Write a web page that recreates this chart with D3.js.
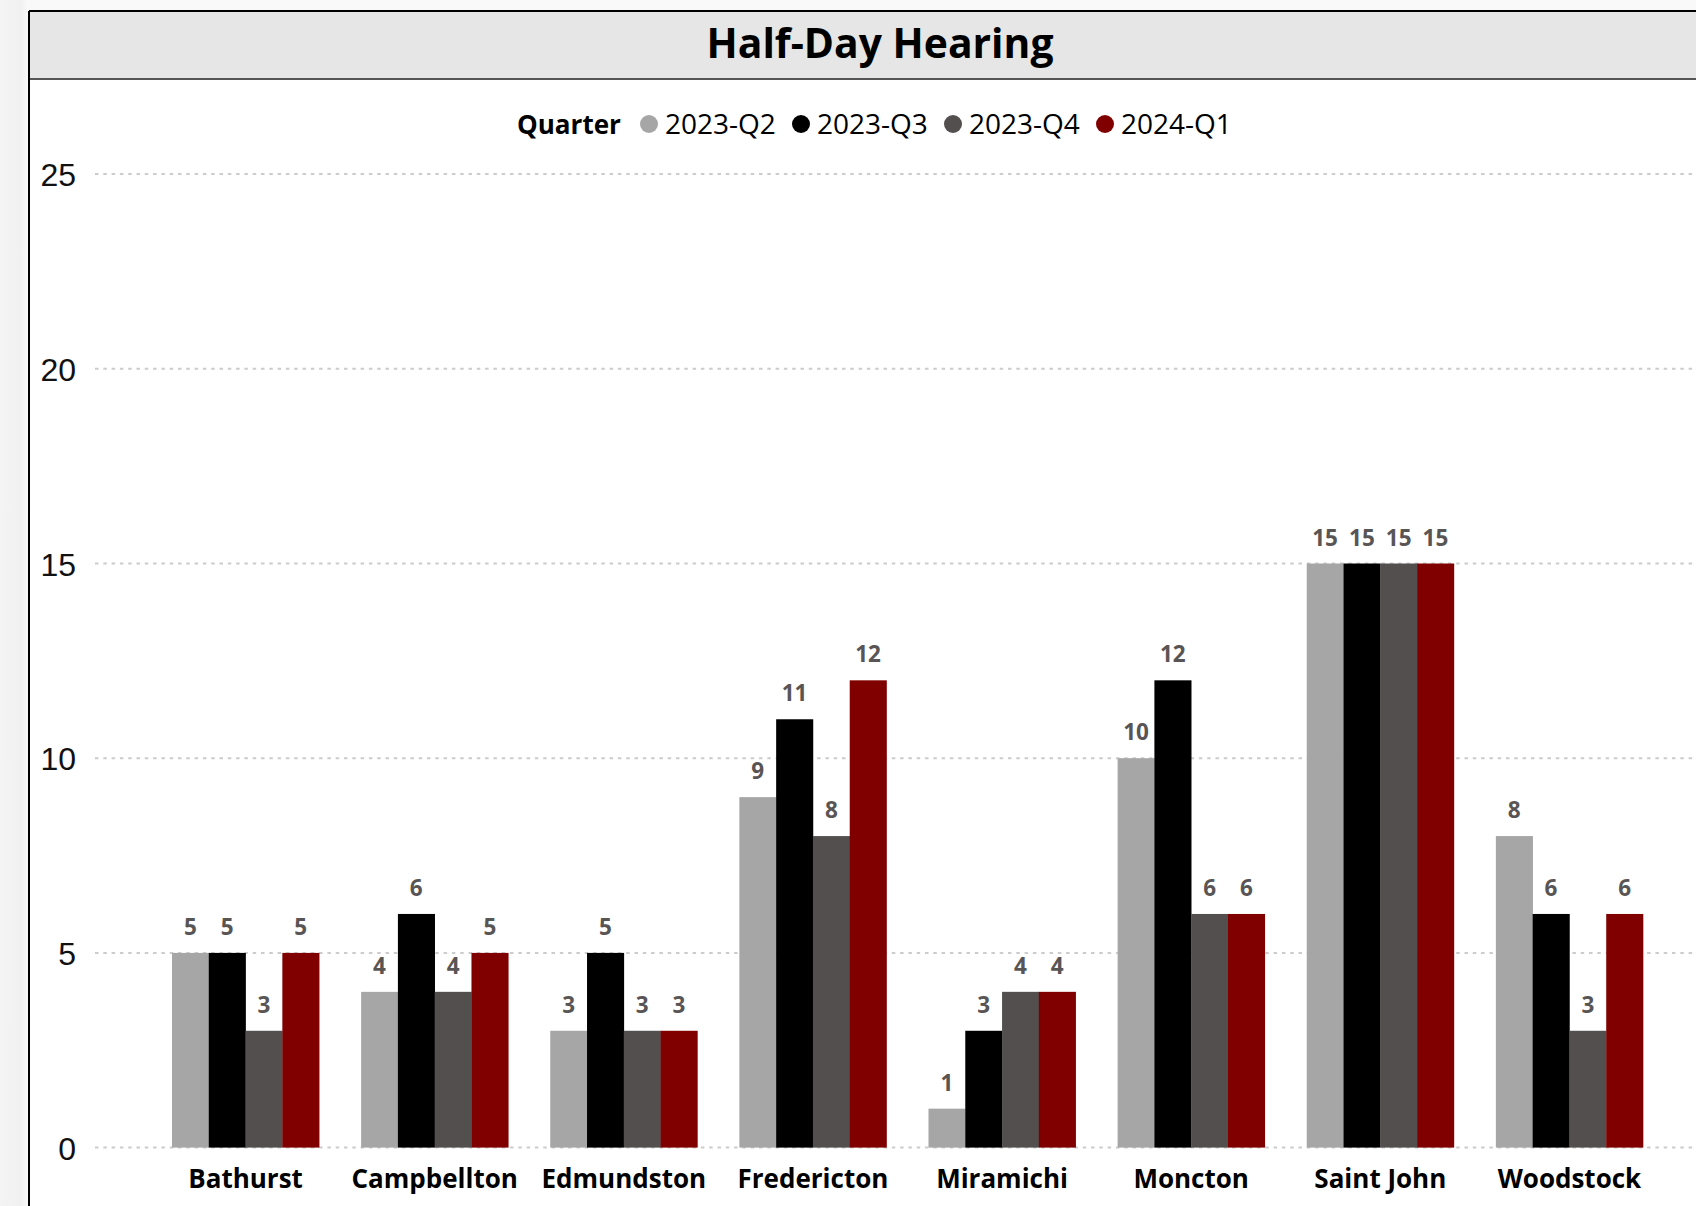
<!DOCTYPE html>
<html>
<head>
<meta charset="utf-8">
<script src="https://cdn.jsdelivr.net/npm/d3@7"></script>
<style>
  html, body { margin: 0; padding: 0; background: #f7f7f7; overflow: hidden; }
  svg { display: block; }
</style>
</head>
<body>
<svg id="chart" width="1696" height="1206"></svg>
<script>
const categories = ["Bathurst", "Campbellton", "Edmundston", "Fredericton", "Miramichi", "Moncton", "Saint John", "Woodstock"];
const seriesNames = ["2023-Q2", "2023-Q3", "2023-Q4", "2024-Q1"];
const q2_2023 = [5, 4, 3, 9, 1, 10, 15, 8];
const q3_2023 = [5, 6, 5, 11, 3, 12, 15, 6];
const q4_2023 = [3, 4, 3, 8, 4, 6, 15, 3];
const q1_2024 = [5, 5, 3, 12, 4, 6, 15, 6];
const seriesColors = ["#a6a6a6", "#000000", "#544f4f", "#800000"];
const yTicks = [0, 5, 10, 15, 20, 25];
const titleText = "Half-Day Hearing";
const legendTitle = "Quarter";

const seriesValues = [q2_2023, q3_2023, q4_2023, q1_2024];
const rows = categories.map((c, i) => ({ cat: c, vals: seriesValues.map((s, k) => ({ key: seriesNames[k], k, v: s[i] })) }));

const svg = d3.select("#chart");
const W = 1696, H = 1206;

// page background shadow
const defs = svg.append("defs");
const g1 = defs.append("linearGradient").attr("id", "shadowL").attr("x1", 0).attr("x2", 1).attr("y1", 0).attr("y2", 0);
g1.append("stop").attr("offset", "0%").attr("stop-color", "#f4f4f4");
g1.append("stop").attr("offset", "70%").attr("stop-color", "#f1f1f1");
g1.append("stop").attr("offset", "100%").attr("stop-color", "#fafafa");
svg.append("rect").attr("x", 0).attr("y", 0).attr("width", W).attr("height", H).attr("fill", "#f9f9f9");
svg.append("rect").attr("x", 0).attr("y", 0).attr("width", 29).attr("height", H).attr("fill", "url(#shadowL)");

// frame
const frameX = 29, frameY = 11;
svg.append("rect").attr("x", frameX).attr("y", frameY).attr("width", W).attr("height", H).attr("fill", "#ffffff");
svg.append("rect").attr("x", frameX).attr("y", frameY).attr("width", W).attr("height", 68).attr("fill", "#e6e6e6");
svg.append("line").attr("x1", frameX).attr("x2", W).attr("y1", 79).attr("y2", 79).attr("stroke", "#555").attr("stroke-width", 2);
svg.append("line").attr("x1", frameX).attr("x2", W).attr("y1", frameY).attr("y2", frameY).attr("stroke", "#000").attr("stroke-width", 2);
svg.append("line").attr("x1", frameX).attr("x2", frameX).attr("y1", frameY).attr("y2", H).attr("stroke", "#000").attr("stroke-width", 2);

function fit(sel, target) {
  const n = sel.node();
  const w = n.getComputedTextLength();
  const fs = parseFloat(sel.attr("font-size"));
  sel.attr("font-size", (fs * target / w).toFixed(2));
}

// title
const title = svg.append("text").attr("x", 880).attr("y", 58)
  .attr("text-anchor", "middle").attr("font-family", "'Open Sans', sans-serif")
  .attr("font-weight", 700).attr("font-size", 36).attr("fill", "#000").text(titleText);
fit(title, 347);

// scales
const y = d3.scaleLinear().domain([0, 25]).range([1147.6, 174.1]);
const x = d3.scaleBand().domain(categories).range([151, 1664]).paddingInner(0.222).paddingOuter(0.111);
const xs = d3.scaleBand().domain(seriesNames).range([0, x.bandwidth()]).padding(0);

// gridlines
const grid = svg.append("g").attr("class", "grid");
grid.selectAll("line").data(yTicks).join("line")
  .attr("x1", 95).attr("x2", W)
  .attr("y1", d => y(d)).attr("y2", d => y(d))
  .attr("stroke", "#cccccc").attr("stroke-width", 2).attr("stroke-dasharray", "3.5,4.8");

// y axis
const yAxis = d3.axisLeft(y).tickValues(yTicks).tickSize(0).tickPadding(0).tickFormat(d3.format("d"));
const yg = svg.append("g").attr("transform", "translate(76,0)").call(yAxis);
yg.select(".domain").remove();
yg.selectAll("text").attr("font-family", "'Liberation Sans', Arial, sans-serif").attr("font-size", 32).attr("fill", "#111").attr("dy", "0.36em");

// bars
const groups = svg.append("g").selectAll("g").data(rows).join("g")
  .attr("transform", d => `translate(${x(d.cat)},0)`);
groups.selectAll("rect").data(d => d.vals).join("rect")
  .attr("x", d => xs(d.key)).attr("width", xs.bandwidth() + 0.3)
  .attr("y", d => y(d.v)).attr("height", d => y(0) - y(d.v))
  .attr("fill", d => seriesColors[d.k]);
groups.selectAll("text.lbl").data(d => d.vals).join("text").attr("class", "lbl")
  .attr("x", d => xs(d.key) + xs.bandwidth() / 2).attr("y", d => y(d.v) - 18)
  .attr("text-anchor", "middle").attr("font-family", "'Open Sans', sans-serif")
  .attr("font-weight", 700).attr("font-size", 22.5).attr("fill", "#595555").text(d => d.v);

// x axis
const xAxis = d3.axisBottom(x).tickSize(0).tickPadding(0);
const xg = svg.append("g").attr("transform", "translate(0,1188)").call(xAxis);
xg.select(".domain").remove();
xg.selectAll("text").attr("font-family", "'Open Sans', sans-serif").attr("font-weight", 700)
  .attr("font-size", 26).attr("fill", "#000").attr("dy", 0);

// legend
const leg = svg.append("g");
const lt = leg.append("text").attr("x", 517).attr("y", 134).attr("font-family", "'Open Sans', sans-serif")
  .attr("font-weight", 700).attr("font-size", 26).attr("fill", "#000").text(legendTitle);
fit(lt, 104);
const items = leg.selectAll("g.item").data(seriesNames).join("g").attr("class", "item")
  .attr("transform", (d, i) => `translate(${649 + i * 152},124)`);
items.append("circle").attr("r", 9).attr("fill", (d, i) => seriesColors[i]);
items.append("text").attr("x", 16).attr("y", 10).attr("font-family", "'Open Sans', sans-serif")
  .attr("font-size", 28).attr("fill", "#000").text(d => d);
</script>
</body>
</html>
